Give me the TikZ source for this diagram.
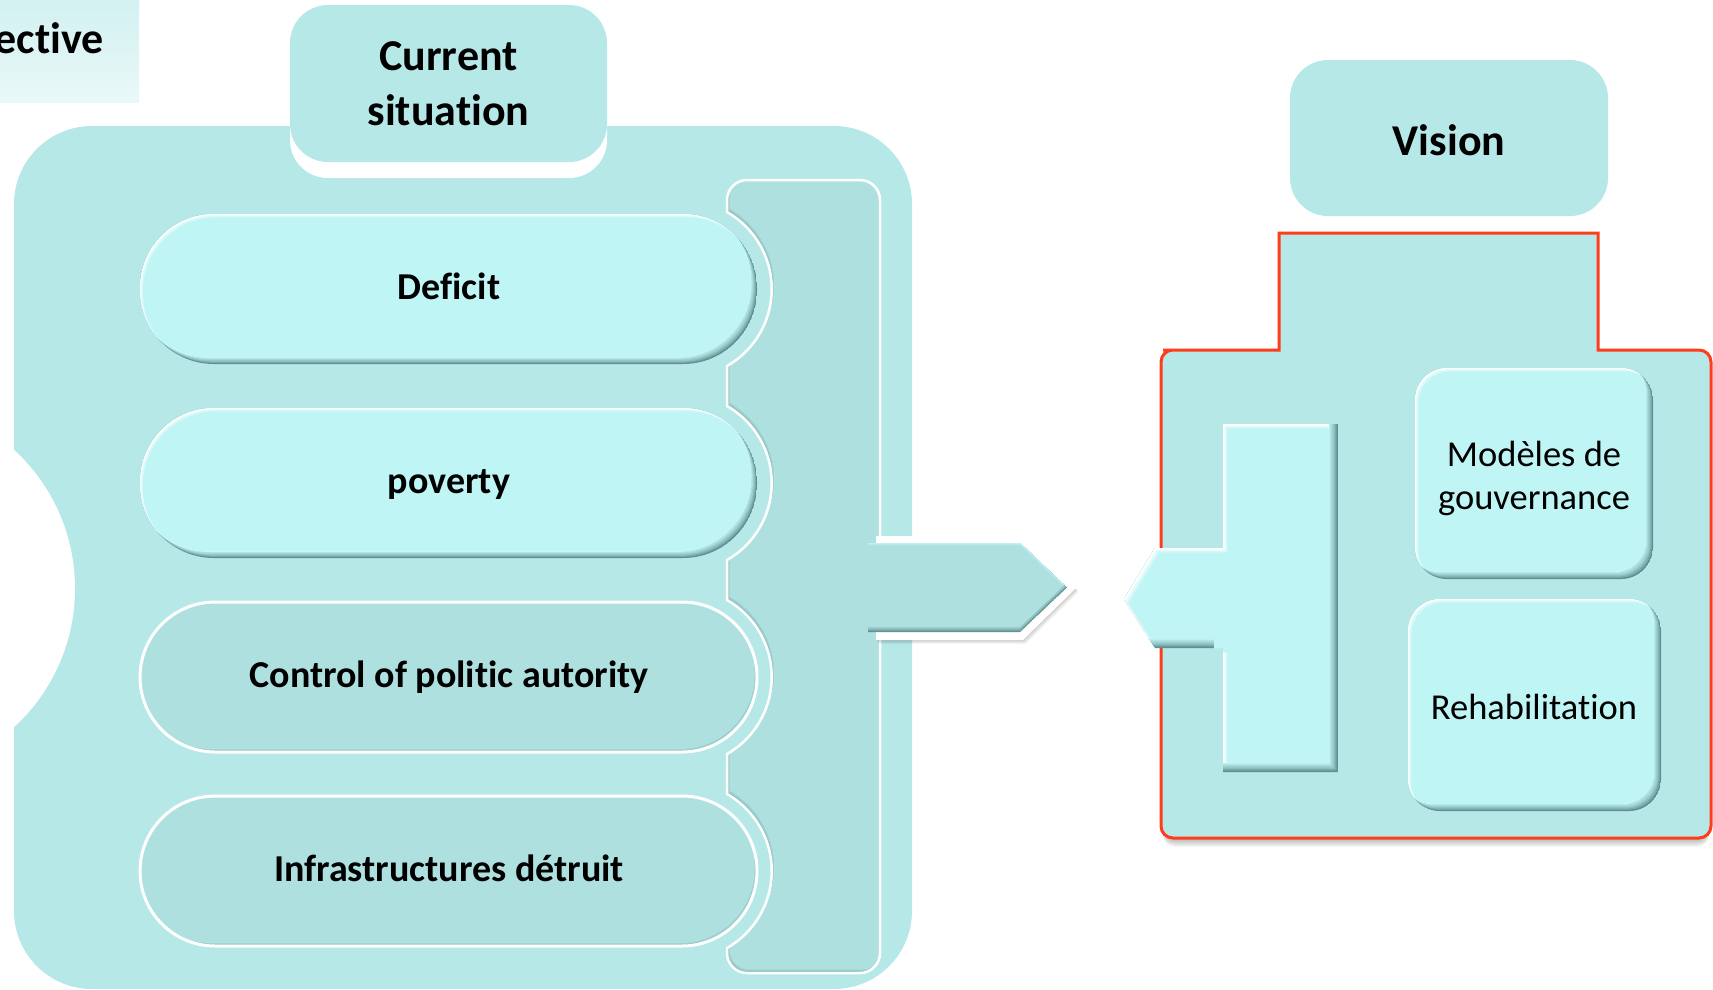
\documentclass[tikz,border=0pt]{standalone}
\usepackage{fontspec}
\setmainfont{Carlito}[Ligatures=NoCommon]
\definecolor{panel}{HTML}{B6E8E8}
\definecolor{barc}{HTML}{AFE0E0}
\definecolor{lightc}{HTML}{C0F5F5}
\definecolor{rimc}{HTML}{5F8F8F}
\definecolor{rimb}{HTML}{7FAEAE}
\definecolor{redc}{HTML}{FF3D1A}
\definecolor{topc}{HTML}{D3F1F1}
\definecolor{botc}{HTML}{EAF8F8}
% bevel: #1 path, #2 base, #3 dark, #4 highlight, #5 dx, #6 dy, #7 highlight factor
\newcommand\bevel[7]{%
 \begin{scope}
  \clip #1;
  \fill[#3] #1;
  \foreach \k/\pp in {1/25,2/45,3/62,4/76,5/88,6/100}{
    \fill[#2!\pp!#3, shift={({-(#5)*\k},{-(#6)*\k})}] #1;
  }
  \begin{scope}[shift={({-6*(#5)},{-6*(#6)})}]
   \clip #1;
   \begin{scope}[shift={({6*(#5)},{6*(#6)})}]
    \fill[#4] #1;
    \foreach \k/\pp in {1/40,2/70,3/100}{
      \fill[#2!\pp!#4, shift={({(#5)*\k*(#7)},{(#6)*\k*(#7)})}] #1;
    }
   \end{scope}
  \end{scope}
 \end{scope}}
\newcommand\barpath{(747,180) -- (860,180) arc[start angle=-90,end angle=0,radius=20]
  -- (880,953) arc[start angle=0,end angle=90,radius=20]
  -- (747,973) arc[start angle=90,end angle=180,radius=20]
  -- (727,948) arc[start angle=60.26,end angle=-60.26,radius=88.7]
  -- (727,754) arc[start angle=60.26,end angle=-60.26,radius=88.7]
  -- (727,560) arc[start angle=60.26,end angle=-60.26,radius=88.7]
  -- (727,366) arc[start angle=60.26,end angle=-60.26,radius=88.7]
  -- (727,200) arc[start angle=180,end angle=270,radius=20] -- cycle}
\newcommand\arrowpath{(868,543) -- (1020,543) -- (1067,587.5) -- (1020,632) -- (868,632) -- cycle}
\newcommand\arrowring{(876,536) -- (1023,536) -- (1076,588) -- (1023,640) -- (876,640) -- cycle}
\newcommand\tpath{(1223,424) -- (1338,424) -- (1338,772) -- (1223,772) -- (1223,648) -- (1155,648) -- (1124,599) -- (1155,548) -- (1223,548) -- cycle}
\tikzset{
 titletext/.style={font=\fontsize{44}{55}\selectfont\bfseries, align=center},
 pilltext/.style={font=\fontsize{38}{46}\selectfont\bfseries, anchor=base},
 boxtext/.style={font=\fontsize{36.5}{43}\selectfont, align=center},
}
\begin{document}
\begin{tikzpicture}[x=1pt,y=-1pt, every node/.style={inner sep=0pt}]
\useasboundingbox (0,0) rectangle (1713,989);
\clip (0,0) rectangle (1713,989);
% top-left partial title box
\shade[top color=topc, bottom color=botc] (0,0) rectangle (139,102);
\node[titletext, anchor=east] (persp) at (104,38) {ective};
% left panel
\fill[panel, rounded corners=78] (14,126) rectangle (912,989);
\fill[white] (-113,588.5) circle[radius=188];
% current situation header
\fill[white, rounded corners=38] (290,22) rectangle (607,178);
\fill[panel, rounded corners=38] (290,5) rectangle (607,162);
\node[titletext] (cur) at (448.5,84) {Current\\situation};
% bar
\bevel{\barpath}{barc}{rimb}{lightc}{-0.5}{0.7}{0.8}
\draw[white, line width=2.5] \barpath;
% pills
\foreach \yc in {289,483}{
  \bevel{[rounded corners=74] (140,\yc-75) rectangle (757,\yc+75)}{lightc}{rimc}{white}{1}{1.1}{1}
}
\foreach \yc in {677,871}{
  \bevel{[rounded corners=74] (140,\yc-75) rectangle (757,\yc+75)}{barc}{rimb}{lightc}{0.5}{0.6}{1}
  \draw[white, line width=3, rounded corners=75] (140,\yc-75) rectangle (757,\yc+75);
}
\node[pilltext] (p1) at (449,299.5) {Deficit};
\node[pilltext] (p2) at (449,493.5) {poverty};
\node[pilltext] (p3) at (449,687.5) {Control of politic autority};
\node[pilltext] (p4) at (449,881.5) {Infrastructures détruit};
% arrow
\foreach \k in {1,...,5}{
  \fill[black, opacity=.04, shift={(0.5*\k,0.8*\k)}] \arrowring;
}
\fill[white] \arrowring;
\bevel{\arrowpath}{barc}{rimc}{lightc}{0}{1}{0.8}
% right side
\fill[panel, rounded corners=38] (1290,60) rectangle (1608,216);
\node[titletext] (vision) at (1449,140) {Vision};
\foreach \k in {1,...,9}{
  \fill[black, opacity=.035, rounded corners=12] (1163,360+\k) rectangle (1709,838+\k);
}
\draw[redc, line width=3, fill=panel] (1279,350) -- (1279,233) -- (1598,233) -- (1598,350) -- (1600,350) [rounded corners=12] -- (1711,350) -- (1711,838) -- (1161,838) -- (1161,350) -- (1175,350) [sharp corners] -- (1279,350) -- cycle;
\bevel{\tpath}{lightc}{rimc}{white}{1.5}{1.5}{1}
\bevel{[rounded corners=32] (1415,368) rectangle (1653,579)}{lightc}{rimc}{white}{1.2}{1.2}{1}
\bevel{[rounded corners=32] (1408,599) rectangle (1661,811)}{lightc}{rimc}{white}{1.2}{1.2}{1}
\node[boxtext] (gov) at (1534,478) {Modèles de\\gouvernance};
\node[boxtext] (rehab) at (1534,707) {Rehabilitation};
\end{tikzpicture}
\end{document}
